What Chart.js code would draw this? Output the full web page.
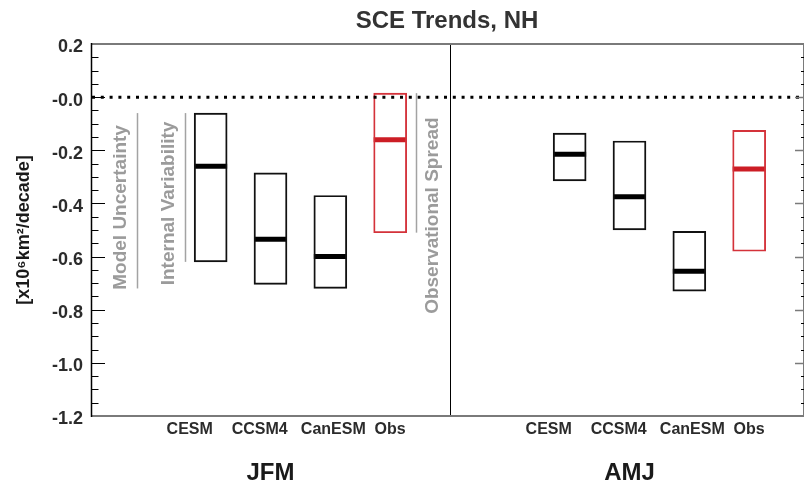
<!DOCTYPE html>
<html>
<head>
<meta charset="utf-8">
<title>SCE Trends, NH</title>
<script src="https://cdn.jsdelivr.net/npm/chart.js@4.4.1/dist/chart.umd.min.js"></script>
<style>
  html, body { margin: 0; padding: 0; background: #fff; }
  #wrap { width: 804px; height: 482px; }
</style>
</head>
<body>
<div id="wrap"><canvas id="sceChart" width="804" height="482"></canvas></div>
<script>
document.addEventListener('DOMContentLoaded', function() {

// Seasons and sources
const seasons = ['JFM', 'AMJ'];
const sources = ['CESM', 'CCSM4', 'CanESM', 'Obs'];

// Trend ranges in x10^6 km^2/decade
const jfmLow = [-0.62, -0.705, -0.72, -0.51];
const jfmHigh = [-0.06, -0.285, -0.37, 0.015];
const jfmMedian = [-0.26, -0.535, -0.60, -0.16];
const amjLow = [-0.315, -0.50, -0.73, -0.58];
const amjHigh = [-0.135, -0.165, -0.505, -0.125];
const amjMedian = [-0.215, -0.375, -0.655, -0.27];

// y axis ticks
const yTickValues = [0.2, 0.0, -0.2, -0.4, -0.6, -0.8, -1.0, -1.2];
const yTickLabels = ['0.2', '-0.0', '-0.2', '-0.4', '-0.6', '-0.8', '-1.0', '-1.2'];

// Layout (x units: boxes sit at 2..5 and 8..11, divider at 6)
const X_MAX = 11.9;
const labelShift = [-0.35, -0.18, 0.05, 0];
const noteX = { model: 0.77, internal: 1.57, obs: 5.44 };
const noteMid = { model: -0.415, internal: -0.40, obs: -0.446 };

const lows = [jfmLow, amjLow];
const highs = [jfmHigh, amjHigh];
const medians = [jfmMedian, amjMedian];

const modelBoxes = [], obsBoxes = [], modelMeds = [], obsMeds = [];
seasons.forEach((s, g) => {
    sources.forEach((src, i) => {
        const x = g * 6 + 2 + i;
        const box = { x: x, y: [lows[g][i], highs[g][i]] };
        const med = { x: x, y: medians[g][i] };
        if (src === 'Obs') { obsBoxes.push(box); obsMeds.push(med); }
        else { modelBoxes.push(box); modelMeds.push(med); }
    });
});

// Annotation ranges (JFM)
const modelTop = Math.max(...jfmHigh.slice(0, 3));
const modelBottom = Math.min(...jfmLow.slice(0, 3));

Chart.defaults.font.family = '"Liberation Sans", Arial, Helvetica, sans-serif';

// Frame, inward ticks, zero line, divider and annotations
const decor = {
    id: 'decor',
    afterDraw(chart) {
        const ctx = chart.ctx;
        const area = chart.chartArea;
        const x = chart.scales.x;
        const y = chart.scales.y;
        ctx.save();

        // dotted zero line
        const y0 = y.getPixelForValue(0);
        ctx.strokeStyle = '#000';
        ctx.lineWidth = 3;
        ctx.setLineDash([3, 5.8]);
        ctx.beginPath();
        ctx.moveTo(area.left + 1, y0);
        ctx.lineTo(area.right, y0);
        ctx.stroke();
        ctx.setLineDash([]);

        // season divider
        const xd = Math.round(x.getPixelForValue(6)) + 0.5;
        ctx.lineWidth = 1;
        ctx.strokeStyle = '#000';
        ctx.beginPath();
        ctx.moveTo(xd, area.top);
        ctx.lineTo(xd, area.bottom);
        ctx.stroke();

        // frame
        ctx.strokeStyle = '#7a7a7a';
        ctx.lineWidth = 2;
        ctx.beginPath();
        ctx.moveTo(area.left, area.top);
        ctx.lineTo(area.right + 1, area.top);
        ctx.moveTo(area.left, area.bottom);
        ctx.lineTo(area.right + 1, area.bottom);
        ctx.stroke();
        ctx.lineWidth = 1;
        ctx.beginPath();
        ctx.moveTo(area.right + 0.5, area.top);
        ctx.lineTo(area.right + 0.5, area.bottom);
        ctx.stroke();
        ctx.strokeStyle = '#000';
        ctx.lineWidth = 1.5;
        ctx.beginPath();
        ctx.moveTo(area.left + 0.5, area.top - 1);
        ctx.lineTo(area.left + 0.5, area.bottom + 1);
        ctx.stroke();

        // ticks, every 0.05
        ctx.lineWidth = 1;
        for (let k = 1; k < 28; k++) {
            const v = 0.2 - k * 0.05;
            const py = Math.round(y.getPixelForValue(v)) + 0.5;
            const major = k % 4 === 0;
            ctx.strokeStyle = '#000';
            ctx.beginPath();
            ctx.moveTo(area.left, py);
            ctx.lineTo(area.left + (major ? 14 : 7.5), py);
            ctx.stroke();
            ctx.strokeStyle = major ? '#7a7a7a' : '#000';
            ctx.lineWidth = major ? 1.5 : 1;
            ctx.beginPath();
            ctx.moveTo(area.right + 1, py);
            ctx.lineTo(area.right + 1 - (major ? 9 : 3), py);
            ctx.stroke();
            ctx.lineWidth = 1;
        }

        // annotations
        const notes = [
            { text: 'Model Uncertainty', xv: noteX.model, top: modelTop, bottom: modelBottom, dx: -17, mid: noteMid.model },
            { text: 'Internal Variability', xv: noteX.internal, top: jfmHigh[0], bottom: jfmLow[0], dx: -16.5, mid: noteMid.internal },
            { text: 'Observational Spread', xv: noteX.obs, top: jfmHigh[3], bottom: jfmLow[3], dx: 16, mid: noteMid.obs }
        ];
        notes.forEach(n => {
            const px = Math.round(x.getPixelForValue(n.xv)) + 0.5;
            ctx.strokeStyle = '#a3a3a3';
            ctx.lineWidth = 1.5;
            ctx.beginPath();
            ctx.moveTo(px, y.getPixelForValue(n.top));
            ctx.lineTo(px, y.getPixelForValue(n.bottom));
            ctx.stroke();
            ctx.save();
            ctx.translate(px + n.dx, y.getPixelForValue(n.mid));
            ctx.rotate(-Math.PI / 2);
            ctx.fillStyle = '#9b9b9b';
            ctx.font = 'bold 19px "Liberation Sans", Arial, sans-serif';
            ctx.textAlign = 'center';
            ctx.textBaseline = 'middle';
            ctx.fillText(n.text, 0, 0);
            ctx.restore();
        });

        ctx.restore();
    }
};

const ctx = document.getElementById('sceChart').getContext('2d');
const sceChart = new Chart(ctx, {
    type: 'bar',
    data: {
        datasets: [
            {
                label: 'Models',
                data: modelBoxes,
                backgroundColor: 'rgba(0,0,0,0)',
                borderColor: '#111',
                borderWidth: 1.3,
                borderSkipped: false,
                barThickness: 33,
                grouped: false
            },
            {
                label: 'Obs',
                data: obsBoxes,
                backgroundColor: 'rgba(0,0,0,0)',
                borderColor: '#d4323a',
                borderWidth: 1.2,
                borderSkipped: false,
                barThickness: 33,
                grouped: false
            },
            {
                type: 'scatter',
                label: 'Model median',
                data: modelMeds,
                pointStyle: 'line',
                pointRadius: 16.5,
                pointHoverRadius: 16.5,
                pointBorderWidth: 5,
                pointBorderColor: '#000',
                pointBackgroundColor: '#000'
            },
            {
                type: 'scatter',
                label: 'Obs median',
                data: obsMeds,
                pointStyle: 'line',
                pointRadius: 16.5,
                pointHoverRadius: 16.5,
                pointBorderWidth: 5,
                pointBorderColor: '#cc1d25',
                pointBackgroundColor: '#cc1d25'
            }
        ]
    },
    options: {
        responsive: false,
        animation: false,
        devicePixelRatio: 1,
        layout: { autoPadding: false, padding: { top: 0, right: 1, bottom: 0, left: 0 } },
        plugins: {
            legend: { display: false },
            tooltip: { enabled: false },
            title: {
                display: true,
                text: 'SCE Trends, NH',
                fullSize: false,
                color: '#333',
                font: { size: 24, weight: 'bold' },
                padding: { top: 6.6, bottom: 8.6 }
            }
        },
        scales: {
            x: {
                type: 'linear',
                position: 'bottom',
                min: 0,
                max: X_MAX,
                offset: false,
                weight: 0,
                grid: { display: false, drawTicks: false },
                border: { display: false },
                afterBuildTicks: scale => {
                    const t = [];
                    seasons.forEach((s, g) => sources.forEach((src, i) => t.push({ value: g * 6 + 2 + i + labelShift[i] })));
                    scale.ticks = t;
                },
                afterFit: scale => { scale.height = 30; },
                ticks: {
                    autoSkip: false,
                    maxRotation: 0,
                    padding: 4,
                    color: '#2b2b2b',
                    font: { size: 16, weight: 'bold' },
                    callback: (v, i) => sources[i % sources.length]
                }
            },
            x2: {
                type: 'linear',
                axis: 'x',
                position: 'bottom',
                min: 0,
                max: X_MAX,
                offset: false,
                weight: 1,
                grid: { display: false, drawTicks: false },
                border: { display: false },
                afterBuildTicks: scale => {
                    scale.ticks = seasons.map((s, g) => ({ value: g * 6 + 3 }));
                },
                afterFit: scale => { scale.height = 36; },
                ticks: {
                    autoSkip: false,
                    maxRotation: 0,
                    padding: 13,
                    color: '#1a1a1a',
                    font: { size: 24, weight: 'bold' },
                    callback: (v, i) => seasons[i]
                }
            },
            y: {
                type: 'linear',
                min: -1.2,
                max: 0.2,
                grid: { display: false, drawTicks: false },
                border: { display: false },
                afterBuildTicks: scale => {
                    scale.ticks = yTickValues.map(v => ({ value: v }));
                },
                afterFit: scale => { scale.width = 91; },
                ticks: {
                    padding: 8,
                    labelOffset: 3.5,
                    color: '#2b2b2b',
                    font: { size: 18, weight: 'bold' },
                    callback: (v, i) => yTickLabels[i]
                },
                title: {
                    display: true,
                    text: '[x10\u2076km\u00b2/decade]',
                    color: '#1a1a1a',
                    font: { size: 18, weight: 'bold' },
                    padding: { top: 13.4, bottom: 0 }
                }
            }
        }
    },
    plugins: [decor]
});

});
</script>
</body>
</html>
